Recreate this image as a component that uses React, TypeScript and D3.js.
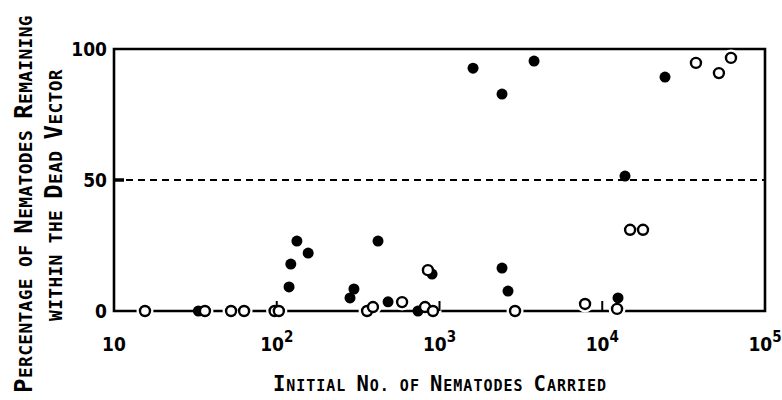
import React from "react";
import * as d3 from "d3";

// Closed circles (filled)
const closedX = [33, 119, 122, 133, 156, 282, 298, 419, 483, 738, 900, 1607, 2422, 2422, 2636, 3810, 12500, 13800, 24300];
const closedY = [0, 9.2, 17.9, 26.7, 22.1, 5.0, 8.4, 26.7, 3.5, 0, 14.1, 92.7, 82.8, 16.4, 7.6, 95.4, 5.0, 51.5, 89.3];

// Open circles
const openX = [15.5, 36.2, 52.4, 63, 97, 103, 359, 390, 589, 815, 912, 849, 2911, 7840, 12330, 14830, 17800, 37650, 52100, 61800];
const openY = [0, 0, 0, 0, 0, 0, 0, 1.5, 3.4, 1.5, 0, 15.6, 0, 2.7, 0.8, 31, 31, 94.7, 90.8, 96.6];

const xTicks = [10, 100, 1000, 10000, 100000];
const yTicks = [0, 50, 100];
const refLine = 50;

const yTitle1 = "Percentage of Nematodes Remaining";
const yTitle2 = "within the Dead Vector";
const xTitle = "Initial No. of Nematodes Carried";

const W = 782;
const H = 400;

function SmallCaps({ text, big, small }: { text: string; big: number; small: number }) {
  const parts: { s: string; b: boolean }[] = [];
  for (const ch of text) {
    const b = ch >= "A" && ch <= "Z";
    const last = parts[parts.length - 1];
    if (last && last.b === b) last.s += ch.toUpperCase();
    else parts.push({ s: ch.toUpperCase(), b });
  }
  return (
    <>
      {parts.map((p, i) => (
        <tspan key={i} fontSize={p.b ? big : small}>
          {p.s}
        </tspan>
      ))}
    </>
  );
}

export default function App() {
  const x = d3.scaleLog().domain([10, 100000]).range([114, 765]);
  const y = d3.scaleLinear().domain([0, 100]).range([311, 49]);
  const r = 5.5;
  const mono = "'DejaVu Sans Mono', 'Liberation Mono', monospace";
  const narrow = "'Liberation Sans Narrow', 'DejaVu Sans Condensed', 'Arial Narrow', sans-serif";
  const [x0, x1] = x.range();
  const [yb, yt] = y.range();

  return (
    <svg width={W} height={H} style={{ position: "absolute", left: 0, top: 0, background: "#fff" }}>
      <rect width={W} height={H} fill="#fff" />
      {/* frame */}
      <path
        d={`M${x0},${yt} L${x1},${yt} L${x1},${yb} L${x0},${yb} Z`}
        fill="none"
        stroke="#000"
        strokeWidth={2.6}
      />
      {/* 50% dashed line */}
      <line x1={x0} x2={x1} y1={y(refLine)} y2={y(refLine)} stroke="#000" strokeWidth={2} strokeDasharray="7,5" />
      <line x1={x0} x2={x0 + 10} y1={y(refLine)} y2={y(refLine)} stroke="#000" strokeWidth={3.5} />
      {/* halos */}
      {openX.map((v, i) => (
        <circle key={"h" + i} cx={x(v)} cy={y(openY[i])} r={r + 3} fill="#fff" />
      ))}
      {/* x ticks */}
      {xTicks.slice(1, -1).map((t) => (
        <line key={t} x1={x(t)} x2={x(t)} y1={yb} y2={yb - 10} stroke="#000" strokeWidth={2} />
      ))}
      {closedX.map((v, i) => (
        <circle key={"c" + i} cx={x(v)} cy={y(closedY[i])} r={r} fill="#000" />
      ))}
      {openX.map((v, i) => (
        <circle key={"o" + i} cx={x(v)} cy={y(openY[i])} r={r - 0.5} fill="#fff" stroke="#000" strokeWidth={2.4} />
      ))}
      {/* y tick labels */}
      {yTicks.map((t) => (
        <text key={t} x={107} y={y(t)} dy="0.35em" textAnchor="end" fontFamily={narrow} fontWeight="bold" fontSize={19} fill="#000">
          {t}
        </text>
      ))}
      {/* x tick labels */}
      {xTicks.map((t) => {
        const e = Math.round(Math.log10(t));
        return (
          <text key={t} x={x(t)} y={351} textAnchor="middle" fontFamily={narrow} fontWeight="bold" fontSize={19} fill="#000">
            10
            {e > 1 ? (
              <tspan fontSize={15} dy={-9}>
                {e}
              </tspan>
            ) : null}
          </text>
        );
      })}
      {/* axis titles */}
      <text x={440} y={391} textAnchor="middle" fontFamily={mono} fontWeight="bold" letterSpacing={1} fill="#000">
        <SmallCaps text={xTitle} big={20.5} small={15} />
      </text>
      <text
        transform={`translate(32,204) rotate(-90)`}
        textAnchor="middle"
        fontFamily={mono}
        fontWeight="bold"
        letterSpacing={0.4}
        fill="#000"
      >
        <SmallCaps text={yTitle1} big={24} small={17.8} />
      </text>
      <text
        transform={`translate(62,195) rotate(-90)`}
        textAnchor="middle"
        fontFamily={mono}
        fontWeight="bold"
        letterSpacing={0.4}
        fill="#000"
      >
        <SmallCaps text={yTitle2} big={24} small={17.8} />
      </text>
    </svg>
  );
}
